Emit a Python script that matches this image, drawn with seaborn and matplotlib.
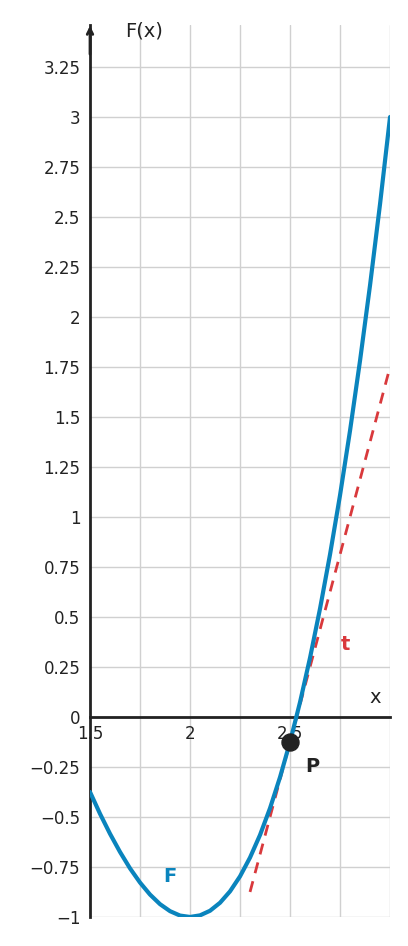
import numpy as np
import pandas as pd
import matplotlib
matplotlib.use("Agg")
import matplotlib.pyplot as plt
import seaborn as sns

# curve values
x_vals = [1.5, 1.55, 1.6, 1.65, 1.7, 1.75, 1.8, 1.85, 1.9, 1.95, 2.0, 2.05, 2.1, 2.15, 2.2, 2.25,
          2.3, 2.35, 2.4, 2.45, 2.5, 2.55, 2.6, 2.65, 2.7, 2.75, 2.8, 2.85, 2.9, 2.95, 3.0]
f_vals = [-0.375, -0.484, -0.584, -0.675, -0.757, -0.828, -0.888, -0.936, -0.971, -0.993, -1.0,
          -0.992, -0.969, -0.929, -0.872, -0.797, -0.703, -0.590, -0.456, -0.301, -0.125, 0.074,
          0.296, 0.542, 0.813, 1.109, 1.432, 1.782, 2.159, 2.565, 3.0]
tan_x = [2.3, 3.0]
tan_y = [-0.875, 1.75]
p_x, p_y = 2.5, -0.125

blue = "#0a84bd"
red = "#d9393c"
dark = "#222222"

sns.set_style("white")
plt.rcParams['font.family'] = ['DejaVu Sans']
fig = plt.figure(figsize=(4.08, 9.46), dpi=100)
ax = fig.add_axes([0.2206, 0.0307, 0.7354, 0.9429])
ax.set_xlim(1.5, 3.0)
ax.set_ylim(-1.0, 3.46)

yt = np.arange(-1, 3.26, 0.25)
for v in yt:
    ax.axhline(v, color="#d0d0d0", lw=1, zorder=0)
for v in [1.75, 2.0, 2.25, 2.5, 2.75, 3.0]:
    ax.axvline(v, color="#d0d0d0", lw=1, zorder=0)

sns.lineplot(x=x_vals, y=f_vals, ax=ax, color=blue, lw=3, zorder=3)
sns.lineplot(x=tan_x, y=tan_y, ax=ax, color=red, lw=2, linestyle=(0, (4, 3)), zorder=2)
ax.scatter([p_x], [p_y], s=150, color=dark, zorder=5)

for s in ["top", "right"]:
    ax.spines[s].set_visible(False)
ax.spines["left"].set_position(("data", 1.5))
ax.spines["bottom"].set_position(("data", 0))
ax.spines["left"].set_color(dark)
ax.spines["bottom"].set_color(dark)
ax.spines["left"].set_linewidth(2)
ax.spines["bottom"].set_linewidth(2)
ax.annotate("", xy=(1.5, 3.47), xytext=(1.5, 3.3),
            arrowprops=dict(arrowstyle="->", color=dark, lw=2), annotation_clip=False)

ax.set_yticks(yt)
ax.set_yticklabels(["−1", "−0.75", "−0.5", "−0.25", "0", "0.25", "0.5", "0.75", "1", "1.25",
                    "1.5", "1.75", "2", "2.25", "2.5", "2.75", "3", "3.25"])
ax.set_xticks([1.5, 1.75, 2.0, 2.25, 2.5, 2.75])
ax.set_xticklabels(["1.5", "", "2", "", "2.5", ""])
ax.tick_params(axis="both", direction="inout", length=7, width=2, color=dark,
               labelsize=12, labelcolor=dark)
ax.tick_params(axis="x", pad=2)
ax.set_xlabel("")
ax.set_ylabel("")

ax.text(1.77, 3.4, "F(x)", fontsize=14, color=dark, ha="center")
ax.text(2.925, 0.07, "x", fontsize=14, color=dark, ha="center")
ax.text(1.9, -0.8, "F", fontsize=14, color=blue, weight="bold", ha="center", va="center")
ax.text(2.61, -0.25, "P", fontsize=14, color=dark, weight="bold", ha="center", va="center")
ax.text(2.775, 0.36, "t", fontsize=14, color=red, weight="bold", ha="center", va="center")

fig.savefig("out.png", dpi=100)
